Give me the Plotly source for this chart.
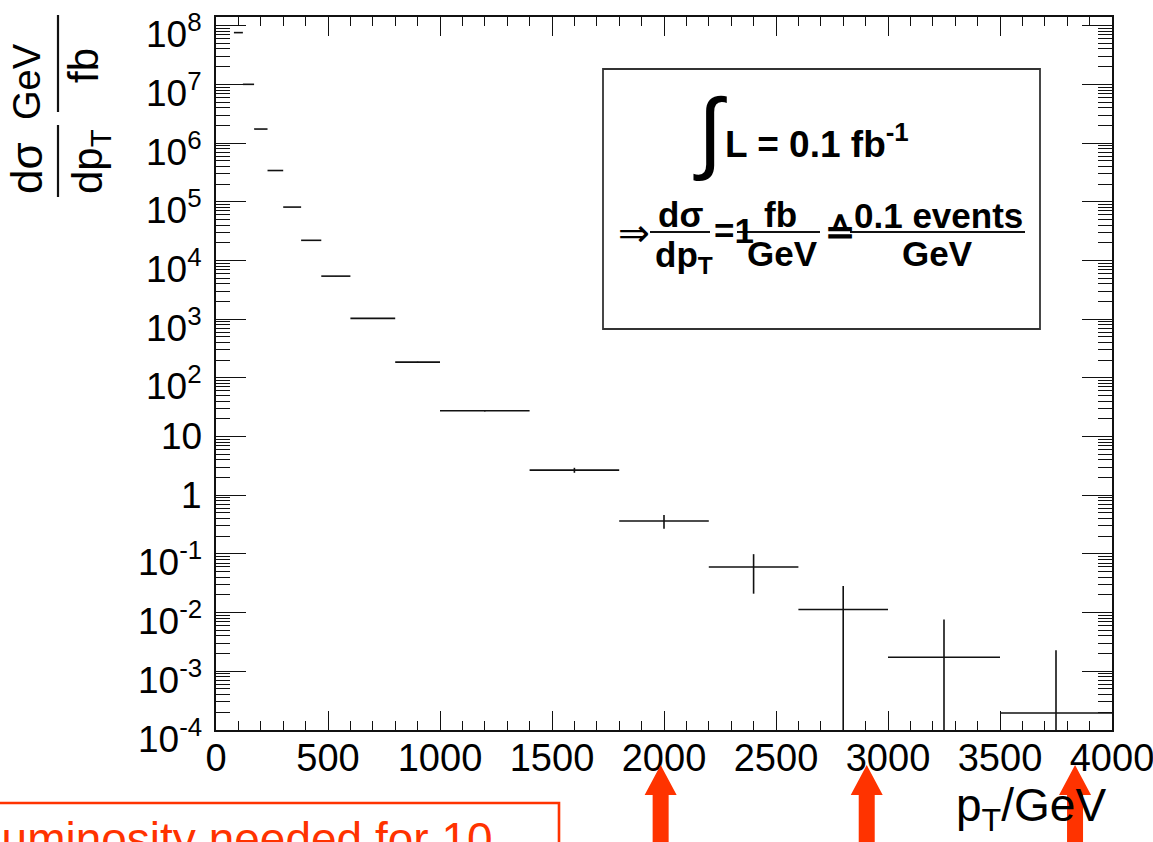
import plotly.graph_objects as go

# ---- data: jet pT spectrum, differential cross section in fb/GeV ----
BIN_LOW = [80, 120, 170, 230, 300, 380, 470, 600, 800, 1000, 1400, 1800, 2200, 2600, 3000, 3500]
BIN_HIGH = [120, 170, 230, 300, 380, 470, 600, 800, 1000, 1400, 1800, 2200, 2600, 3000, 3500, 4000]
DSIGMA = [7.6e7, 1.0e7, 1.73e6, 3.4e5, 8.1e4, 2.2e4, 5.4e3, 1.03e3, 185.0, 27.4, 2.67,
          0.364, 0.060, 0.0113, 0.00174, 0.000195]
DSIGMA_ERR = [4.4e3, 1.4e3, 5.4e2, 2.2e2, 1.0e2, 49.0, 20.0, 7.2, 3.0, 0.83, 0.26,
              0.095, 0.039, 0.017, 0.0059, 0.0021]

# axis ticks
X_RANGE = [0, 4000]
Y_EXPONENTS = list(range(-4, 9))
Y_LABELS = ["1" if e == 0 else "10" if e == 1 else "10<sup>%d</sup>" % e for e in Y_EXPONENTS]
Y_LOG_TOP = 8.147
ARROW_PT = [1985, 2905, 3835]

RED = "#FF3300"
INK = "#111111"
FONT = "Liberation Sans, Arial, Helvetica, sans-serif"

# ---- canvas geometry ----
W, H = 1153, 842
ML, MR, MT, MB = 216, 41, 17, 112
PW, PH = W - ML - MR, H - MT - MB


def px(xpix):
    return (xpix - ML) / PW


def py(ypix):
    return (H - MB - ypix) / PH


def pt_to_paper(v):
    return (v - X_RANGE[0]) / (X_RANGE[1] - X_RANGE[0])


centers = [(a + b) / 2 for a, b in zip(BIN_LOW, BIN_HIGH)]
half_widths = [(b - a) / 2 for a, b in zip(BIN_LOW, BIN_HIGH)]

fig = go.Figure()
fig.add_trace(go.Scatter(
    x=centers, y=DSIGMA, mode="markers",
    marker=dict(size=1, color=INK, opacity=0),
    error_x=dict(type="data", array=half_widths, symmetric=True,
                 width=0, thickness=1.6, color=INK),
    error_y=dict(type="data", array=DSIGMA_ERR, symmetric=True,
                 width=0, thickness=1.6, color=INK),
    showlegend=False, hoverinfo="skip",
))

y_tickvals = [10.0 ** e for e in Y_EXPONENTS]
y_minor = [m * 10.0 ** e for e in range(-4, 9) for m in range(2, 10) if m * 10.0 ** e < 10 ** Y_LOG_TOP]

fig.update_xaxes(
    range=X_RANGE, showline=True, linecolor=INK, linewidth=1.6, mirror="allticks",
    ticks="inside", ticklen=19, tickwidth=1.4, tickcolor=INK,
    tick0=0, dtick=500, showgrid=False, zeroline=False,
    tickfont=dict(family=FONT, size=38, color="black"),
    minor=dict(ticks="inside", ticklen=9, tickwidth=1.2, tickcolor=INK, dtick=100, showgrid=False),
    ticklabelstandoff=-6, ticklabeloverflow="allow", automargin=False,
)
fig.update_yaxes(
    type="log", range=[-4, Y_LOG_TOP], showline=True, linecolor=INK, linewidth=1.6,
    mirror="allticks", ticks="inside", ticklen=30, tickwidth=1.4, tickcolor=INK,
    tickmode="array", tickvals=y_tickvals, showticklabels=False,
    showgrid=False, zeroline=False,
    minor=dict(ticks="inside", ticklen=14, tickwidth=1.2, tickcolor=INK,
               tickmode="array", tickvals=y_minor, showgrid=False),
    automargin=False,
)

annotations = []
shapes = []

# decade labels of the log axis (the power labels sit a little below their tick)
for e, lab in zip(Y_EXPONENTS, Y_LABELS):
    annotations.append(dict(
        text=lab, x=px(204), y=e, xref="paper", yref="y",
        xanchor="right", yanchor="middle", showarrow=False,
        yshift=-6 if "sup" in lab else 0,
        font=dict(family=FONT, size=37, color="black"),
    ))


def text(s, x, y, size, xanchor="center", yanchor="middle", bold=False, angle=0, color="black"):
    annotations.append(dict(
        text="<b>%s</b>" % s if bold else s, x=px(x), y=py(y), xref="paper", yref="paper",
        xanchor=xanchor, yanchor=yanchor, showarrow=False, textangle=angle,
        font=dict(family=FONT, size=size, color=color),
    ))


def hline(x0, x1, y, width=2.0, color=INK):
    shapes.append(dict(type="line", xref="paper", yref="paper",
                       x0=px(x0), x1=px(x1), y0=py(y), y1=py(y),
                       line=dict(color=color, width=width)))


def vline(x, y0, y1, width=2.2, color=INK):
    shapes.append(dict(type="line", xref="paper", yref="paper",
                       x0=px(x), x1=px(x), y0=py(y0), y1=py(y1),
                       line=dict(color=color, width=width)))


# y-axis title: dsigma/dpT  GeV/fb (rotated fractions)
text("dσ", 27, 168, 44, angle=-90)
vline(58, 125, 197)
text("dp<sub>T</sub>", 90, 162, 42, angle=-90)
text("GeV", 27, 82, 38, angle=-90)
vline(58, 15, 112)
text("fb", 83, 66, 42, angle=-90)

# x-axis title
text("p<sub>T</sub>/GeV", 1108, 777, 46, xanchor="right", yanchor="top")

# luminosity box
shapes.append(dict(type="rect", xref="paper", yref="paper",
                   x0=px(603), x1=px(1040), y0=py(329), y1=py(69),
                   line=dict(color="#333333", width=1.8), fillcolor="white", layer="above"))
text("∫", 710, 131, 90)
text("L = 0.1 fb<sup>-1</sup>", 723, 141, 37, xanchor="left", bold=True)
text("⇒", 634, 233, 38)
text("dσ", 680, 214, 35, bold=True)
hline(650, 710, 232)
text("dp<sub>T</sub>", 684, 257, 35, bold=True)
text("=1", 734, 230, 35, bold=True)
text("fb", 780, 214, 35, bold=True)
hline(737, 820, 232)
text("GeV", 782, 253, 35, bold=True)
text("≙", 840, 231, 36, bold=True)
text("0.1 events", 938, 216, 35, bold=True)
hline(850, 1025, 232)
text("GeV", 937, 253, 35, bold=True)

# red call-out box and arrows below the axis
shapes.append(dict(type="rect", xref="paper", yref="paper",
                   x0=px(-10), x1=px(559), y0=py(860), y1=py(803),
                   line=dict(color=RED, width=2.6), fillcolor="rgba(0,0,0,0)"))
text("Luminosity needed for 10", -26, 811, 46, xanchor="left", yanchor="top", color=RED)

dx_head, dx_shaft = 16 / PW, 8 / PW
for p in ARROW_PT:
    cx = pt_to_paper(p)
    y_tip, y_base, y_end = py(765), py(795), py(860)
    path = ("M {a},{e} L {a},{b} L {c},{b} L {x},{t} L {d},{b} L {f},{b} L {f},{e} Z"
            .format(a=cx - dx_shaft, b=y_base, c=cx - dx_head, x=cx, t=y_tip,
                    d=cx + dx_head, f=cx + dx_shaft, e=y_end))
    shapes.append(dict(type="path", xref="paper", yref="paper", path=path,
                       fillcolor=RED, line=dict(color=RED, width=0)))

fig.update_layout(
    width=W, height=H, margin=dict(l=ML, r=MR, t=MT, b=MB),
    paper_bgcolor="white", plot_bgcolor="white",
    annotations=annotations, shapes=shapes, showlegend=False,
)

fig.write_html("out.html")
